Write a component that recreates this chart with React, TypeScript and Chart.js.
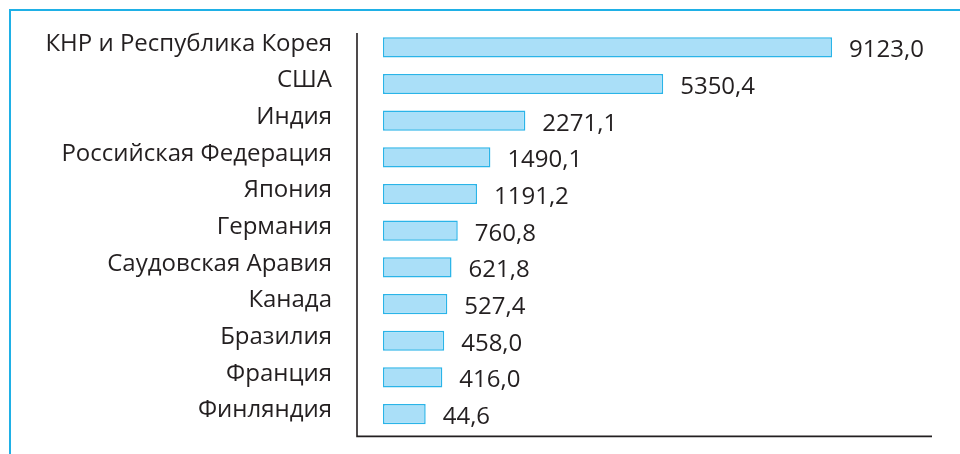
import React, { useEffect, useRef } from "react";
import { Chart, registerables } from "chart.js";

Chart.register(...registerables);

const categories = [
  "КНР и Республика Корея",
  "США",
  "Индия",
  "Российская Федерация",
  "Япония",
  "Германия",
  "Саудовская Аравия",
  "Канада",
  "Бразилия",
  "Франция",
  "Финляндия",
];
const values = [9123.0, 5350.4, 2271.1, 1490.1, 1191.2, 760.8, 621.8, 527.4, 458.0, 416.0, 44.6];

const BAR_BASE = -910;
const AXIS_MIN = -1490;
const AXIS_MAX = 11356;

const FONT = "'Open Sans', 'Noto Sans', sans-serif";
const FONT_SIZE = 24;
const TEXT_COLOR = "#231f20";

const axisLines = {
  id: "axisLines",
  afterDraw(chart: any) {
    const { ctx, chartArea } = chart;
    ctx.save();
    ctx.strokeStyle = TEXT_COLOR;
    ctx.lineWidth = 1.6;
    ctx.beginPath();
    ctx.moveTo(chartArea.left, chartArea.top + 4);
    ctx.lineTo(chartArea.left, chartArea.bottom + 4);
    ctx.lineTo(chartArea.right, chartArea.bottom + 4);
    ctx.stroke();
    ctx.restore();
  },
};

const valueLabels = {
  id: "valueLabels",
  afterDatasetsDraw(chart: any) {
    const { ctx } = chart;
    const meta = chart.getDatasetMeta(0);
    ctx.save();
    ctx.fillStyle = TEXT_COLOR;
    ctx.font = `${FONT_SIZE}px ${FONT}`;
    ctx.textAlign = "left";
    ctx.textBaseline = "middle";
    meta.data.forEach((bar: any, i: number) => {
      const txt = values[i].toFixed(1).replace(".", ",");
      ctx.fillText(txt, bar.x + 17, bar.y + 3);
    });
    ctx.restore();
  },
};

export default function App() {
  const ref = useRef<HTMLCanvasElement>(null);
  useEffect(() => {
    if (!ref.current) return;
    const chart = new Chart(ref.current, {
      type: "bar",
      data: {
        labels: categories,
        datasets: [
          {
            data: values,
            base: BAR_BASE,
            backgroundColor: "#aadff8",
            borderColor: "#2ab4e8",
            borderWidth: 1.5,
            borderSkipped: false,
            barPercentage: 0.55,
            categoryPercentage: 1,
          } as any,
        ],
      },
      options: {
        indexAxis: "y",
        animation: false,
        responsive: false,
        maintainAspectRatio: false,
        layout: { padding: { top: 29, bottom: 21.6, right: 28, left: 0 } },
        plugins: { legend: { display: false }, tooltip: { enabled: false } },
        scales: {
          x: {
            type: "linear",
            min: AXIS_MIN,
            max: AXIS_MAX,
            display: false,
          },
          y: {
            type: "category",
            grid: { display: false, drawTicks: true, tickLength: 25 },
            border: { display: false },
            afterFit(scale: any) {
              scale.width = 357;
            },
            ticks: {
              color: TEXT_COLOR,
              font: { family: FONT, size: FONT_SIZE },
              padding: 0,
              labelOffset: -3.5,
            },
          },
        },
      },
      plugins: [axisLines, valueLabels],
    });
    return () => chart.destroy();
  }, []);
  return (
    <div style={{ position: "absolute", left: 0, top: 0, width: 960, height: 454, overflow: "hidden", background: "#fff" }}>
      <div
        style={{
          position: "absolute",
          left: 9,
          top: 9,
          width: 1000,
          height: 1000,
          borderLeft: "2px solid #1fb0e6",
          borderTop: "2px solid #1fb0e6",
        }}
      />
      <canvas ref={ref} width={960} height={454} style={{ position: "absolute", left: 0, top: 0 }} />
    </div>
  );
}
